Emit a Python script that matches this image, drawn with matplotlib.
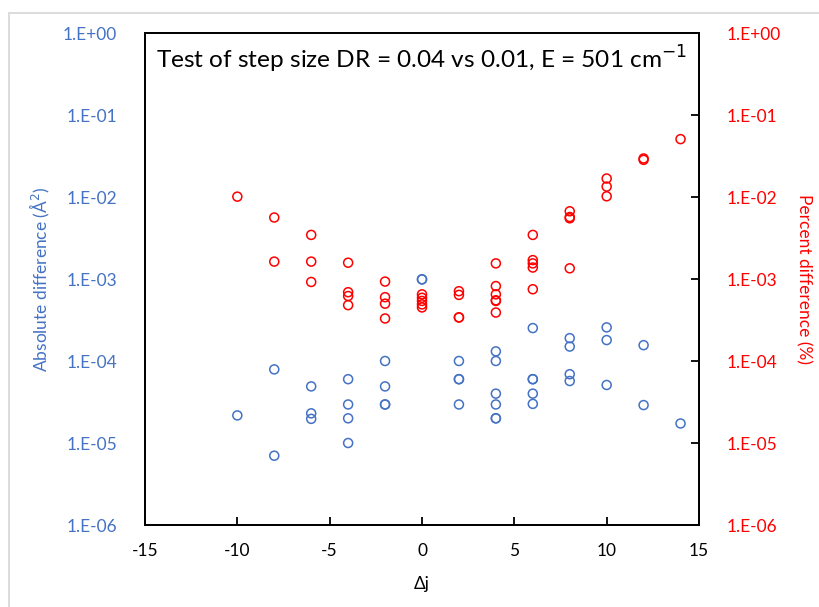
import matplotlib
matplotlib.use("Agg")
import matplotlib.pyplot as plt
from matplotlib.patches import Rectangle
from matplotlib.ticker import FixedLocator, FixedFormatter, NullLocator

plt.rcParams['font.family'] = ['Lato', 'DejaVu Sans']

# absolute difference (A^2), left axis
dj_abs = [-10,
          -8, -8,
          -6, -6, -6,
          -4, -4, -4, -4,
          -2, -2, -2, -2,
          0, 0,
          2, 2, 2, 2,
          4, 4, 4, 4, 4, 4,
          6, 6, 6, 6, 6,
          8, 8, 8, 8,
          10, 10, 10,
          12, 12,
          14]
abs_diff = [2.17e-5,
            7.9e-5, 7.0e-6,
            4.9e-5, 2.3e-5, 1.97e-5,
            6.0e-5, 2.95e-5, 2.0e-5, 1.0e-5,
            1.0e-4, 4.9e-5, 2.95e-5, 2.95e-5,
            9.9e-4, 9.9e-4,
            1.0e-4, 6.0e-5, 6.0e-5, 2.95e-5,
            1.31e-4, 1.0e-4, 4.0e-5, 2.95e-5, 2.0e-5, 2.0e-5,
            2.52e-4, 6.0e-5, 6.0e-5, 4.0e-5, 3.0e-5,
            1.9e-4, 1.5e-4, 6.9e-5, 5.7e-5,
            2.57e-4, 1.8e-4, 5.1e-5,
            1.56e-4, 2.9e-5,
            1.73e-5]

# percent difference, right axis
dj_pct = [-10,
          -8, -8,
          -6, -6, -6,
          -4, -4, -4, -4,
          -2, -2, -2, -2,
          0, 0, 0, 0, 0,
          2, 2, 2, 2,
          4, 4, 4, 4, 4, 4,
          6, 6, 6, 6, 6,
          8, 8, 8, 8,
          10, 10, 10,
          12, 12,
          14]
pct_diff = [1.01e-2,
            5.62e-3, 1.63e-3,
            3.45e-3, 1.63e-3, 9.2e-4,
            1.58e-3, 6.9e-4, 6.2e-4, 4.8e-4,
            9.3e-4, 6.0e-4, 5.0e-4, 3.3e-4,
            6.5e-4, 5.9e-4, 5.4e-4, 4.9e-4, 4.5e-4,
            7.1e-4, 6.4e-4, 3.4e-4, 3.4e-4,
            1.55e-3, 8.2e-4, 6.5e-4, 5.5e-4, 5.4e-4, 3.9e-4,
            3.45e-3, 1.7e-3, 1.55e-3, 1.38e-3, 7.5e-4,
            6.7e-3, 5.7e-3, 5.5e-3, 1.35e-3,
            1.68e-2, 1.34e-2, 1.02e-2,
            2.95e-2, 2.84e-2,
            5.08e-2]

x_ticks = [-15, -10, -5, 0, 5, 10, 15]
y_ticks = [1e-6, 1e-5, 1e-4, 1e-3, 1e-2, 1e-1, 1e0]
y_labels = ['1.E-06', '1.E-05', '1.E-04', '1.E-03', '1.E-02', '1.E-01', '1.E+00']

blue = '#4472C4'
red = '#FF0000'

fig = plt.figure(figsize=(8.2, 6.07), dpi=100)
fig.patch.set_facecolor('white')

# chart frame
fig.patches.append(Rectangle((8.5/820, -0.1), 1.2, 1 - 12.5/607 + 0.1,
                             transform=fig.transFigure, fill=False,
                             edgecolor='#D9D9D9', linewidth=1.3))

ax = fig.add_axes([145/820, 1 - 525/607, 554/820, 492/607])
ax2 = ax.twinx()

ax.scatter(dj_abs, abs_diff, s=42, facecolors='none', edgecolors=blue,
           linewidths=1.1, zorder=3)
ax2.scatter(dj_pct, pct_diff, s=42, facecolors='none', edgecolors=red,
            linewidths=1.1, zorder=3)

for a in (ax, ax2):
    a.set_yscale('log')
    a.set_ylim(1e-6, 1e0)
    a.yaxis.set_major_locator(FixedLocator(y_ticks))
    a.yaxis.set_major_formatter(FixedFormatter(y_labels))
    a.yaxis.set_minor_locator(NullLocator())
    for s in a.spines.values():
        s.set_linewidth(1.3)
        s.set_color('black')

ax.set_xlim(-15, 15)
ax.set_xticks(x_ticks)
ax.set_xticklabels([str(t) for t in x_ticks])
ax.tick_params(axis='x', direction='in', length=6, width=1.3, labelsize=12.5,
               pad=13, colors='black')
ax.tick_params(axis='y', direction='in', length=0, labelsize=12.5, pad=20,
               labelcolor=blue)
ax2.tick_params(axis='y', direction='in', length=6, width=1.3, labelsize=12.5,
                pad=20, labelcolor=red)

ax.set_xlabel('Δj', fontsize=12.5, labelpad=12)
ax.set_ylabel('Absolute difference (Å$^2$)', fontsize=12.5, color=blue, labelpad=8)
ax2.set_ylabel('Percent difference (%)', fontsize=12.5, color=red, rotation=270,
               labelpad=22)

ax.text(0.5, 0.946, 'Test of step size DR = 0.04 vs 0.01, E = 501 cm$^{-1}$',
        transform=ax.transAxes, ha='center', va='center', fontsize=17.6)

fig.savefig('out.png', dpi=100)
